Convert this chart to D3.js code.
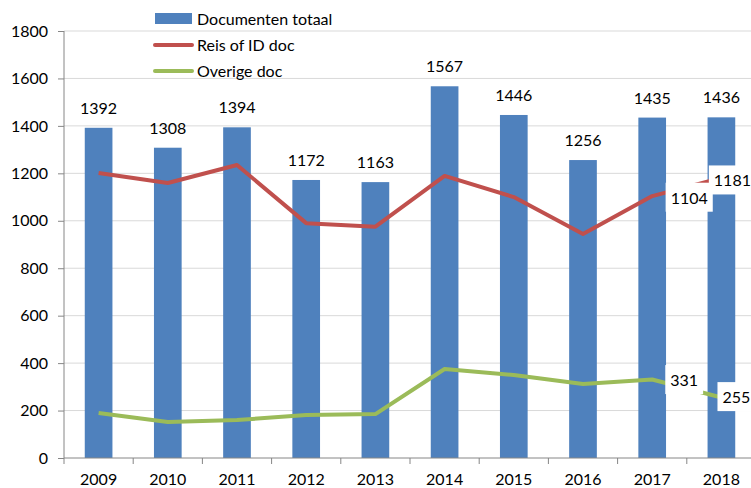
<!DOCTYPE html>
<html><head><meta charset="utf-8">
<script src="https://cdn.jsdelivr.net/npm/d3@7"></script>
<style>body{margin:0;background:#fff}svg{display:block;font-family:Lato,"Liberation Sans",sans-serif}</style>
</head><body>
<svg id="c" width="751" height="488"></svg>
<script>
const years = ["2009","2010","2011","2012","2013","2014","2015","2016","2017","2018"];
const totaal = [1392,1308,1394,1172,1163,1567,1446,1256,1435,1436];
const reis = [1201,1159,1235,990,975,1189,1100,944,1104,1181];
const overige = [190,152,160,181,185,375,350,312,331,255];
const yTicks = [0,200,400,600,800,1000,1200,1400,1600,1800];
const seriesNames = ["Documenten totaal","Reis of ID doc","Overige doc"];
const colors = ["#4F81BD","#C0504D","#9BBB59"];

const svg = d3.select("#c");
const x = d3.scaleBand().domain(years).range([64,756]).paddingInner(0.6).paddingOuter(0.3);
const y = d3.scaleLinear().domain([0,1800]).range([458,31]);
const cx = d => x(d)+x.bandwidth()/2;
const FS = 16;

// gridlines
svg.append("g").selectAll("line").data(yTicks.slice(1)).join("line")
  .attr("x1",64).attr("x2",751).attr("y1",d=>y(d)).attr("y2",d=>y(d))
  .attr("stroke","#d9d9d9").attr("stroke-width",1);

// bars
svg.append("g").selectAll("rect").data(years).join("rect")
  .attr("x",d=>x(d)).attr("width",x.bandwidth())
  .attr("y",(d,i)=>y(totaal[i])).attr("height",(d,i)=>y(0)-y(totaal[i]))
  .attr("fill",colors[0]);

// bar labels
svg.append("g").selectAll("text").data(years).join("text")
  .attr("x",d=>cx(d)).attr("y",(d,i)=>y(totaal[i])-14)
  .attr("text-anchor","middle").attr("font-size",FS).attr("fill","#000")
  .text((d,i)=>totaal[i]);

// axes
const yAxis = d3.axisLeft(y).tickValues(yTicks).tickFormat(d3.format("d")).tickSize(6).tickPadding(10);
const gy = svg.append("g").attr("transform","translate(64,0)").call(yAxis);
gy.select(".domain").attr("stroke","#868686").attr("d","M0,"+y(1800)+"V"+y(0));
gy.selectAll(".tick line").attr("stroke","#868686");
gy.selectAll("text").attr("font-size",FS).attr("fill","#000").attr("font-family","Lato,sans-serif");

const xAxis = d3.axisBottom(x).tickSize(0).tickPadding(16);
const gx = svg.append("g").attr("transform","translate(0,458)").call(xAxis);
gx.select(".domain").attr("stroke","#868686").attr("d","M64,0H751");
gx.selectAll("text").attr("font-size",FS).attr("fill","#000").attr("font-family","Lato,sans-serif");
// category boundary ticks
const step = x.step();
const bounds = years.map((d,i)=>cx(d)-step/2).concat([cx(years[9])+step/2]);
svg.append("g").selectAll("line").data(bounds.filter(b=>b<751)).join("line")
  .attr("x1",d=>d).attr("x2",d=>d).attr("y1",458).attr("y2",464)
  .attr("stroke","#868686");

// lines
const line = arr => d3.line().x((d,i)=>cx(years[i])).y(d=>y(d))(arr);
svg.append("path").attr("d",line(reis)).attr("fill","none").attr("stroke",colors[1]).attr("stroke-width",4).attr("stroke-linejoin","round");
svg.append("path").attr("d",line(overige)).attr("fill","none").attr("stroke",colors[2]).attr("stroke-width",4).attr("stroke-linejoin","round");

// line labels with white boxes (2017, 2018)
function boxLabel(xc, yc, txt){
  const g = svg.append("g");
  const t = g.append("text").attr("x",xc).attr("y",yc).attr("dy","0.35em")
    .attr("text-anchor","middle").attr("font-size",FS).attr("fill","#000").text(txt);
  const bb = t.node().getBBox();
  g.insert("rect","text").attr("x",bb.x-5).attr("y",bb.y-5).attr("width",bb.width+10).attr("height",bb.height+10).attr("fill","#fff");
}
boxLabel(cx("2017")+37, y(reis[8])+2, reis[8]);
boxLabel(cx("2018")+11, y(reis[9])+3, reis[9]);
boxLabel(cx("2017")+32, y(overige[8])+1, overige[8]);
boxLabel(cx("2018")+15, y(overige[9]), overige[9]);

// legend
const lg = svg.append("g");
seriesNames.forEach((n,i)=>{
  const yy = 19 + i*26;
  if(i===0) lg.append("rect").attr("x",155).attr("y",yy-6).attr("width",37).attr("height",11).attr("fill",colors[0]);
  else lg.append("line").attr("x1",155).attr("x2",192).attr("y1",yy).attr("y2",yy).attr("stroke",colors[i]).attr("stroke-width",4).attr("stroke-linecap","round");
  lg.append("text").attr("x",197).attr("y",yy).attr("dy","0.35em").attr("font-size",FS).attr("fill","#000").text(n);
});
</script>
</body></html>
